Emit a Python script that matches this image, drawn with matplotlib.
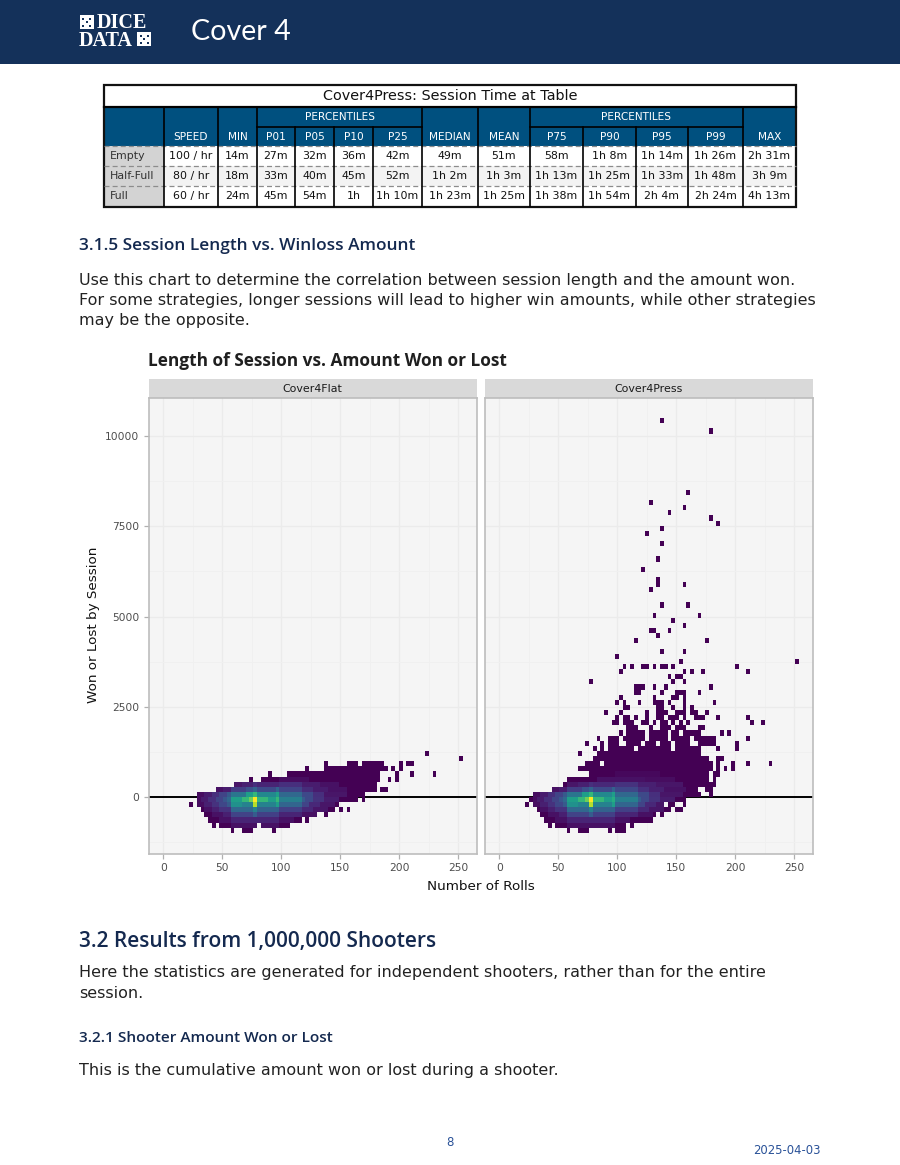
import numpy as np
import matplotlib
matplotlib.use('Agg')
import matplotlib.pyplot as plt
from matplotlib.patches import Rectangle

W, H = 900, 1165
plt.rcParams['font.family'] = ['DejaVu Sans']
HEAD_FONT = ['Open Sans', 'DejaVu Sans']

# session time table
table_title = 'Cover4Press: Session Time at Table'
head_left = ['SPEED', 'MIN', 'P01', 'P05', 'P10', 'P25', 'MEDIAN', 'MEAN', 'P75', 'P90', 'P95', 'P99', 'MAX']
row_names = ['Empty', 'Half-Full', 'Full']
row_empty = ['100 / hr', '14m', '27m', '32m', '36m', '42m', '49m', '51m', '58m', '1h 8m', '1h 14m', '1h 26m', '2h 31m']
row_half = ['80 / hr', '18m', '33m', '40m', '45m', '52m', '1h 2m', '1h 3m', '1h 13m', '1h 25m', '1h 33m', '1h 48m', '3h 9m']
row_full = ['60 / hr', '24m', '45m', '54m', '1h', '1h 10m', '1h 23m', '1h 25m', '1h 38m', '1h 54m', '2h 4m', '2h 24m', '4h 13m']

# heatmap bins
col_width = 3.17
col_first = 20.6
row_height = 141.8
n_cols = 76
row_low, row_high = -8, 75

# (row, first col, last col): bins holding at least one session
flat_spans = [
    (8, 64, 64), (7, 73, 73),
    (6, 37, 37), (6, 43, 45), (6, 47, 52), (6, 57, 57), (6, 59, 60),
    (5, 32, 32), (5, 37, 53), (5, 55, 55), (5, 57, 57),
    (4, 22, 22), (4, 27, 51), (4, 56, 56), (4, 60, 60), (4, 66, 66),
    (3, 17, 17), (3, 20, 51), (3, 54, 54), (3, 56, 56),
    (2, 13, 50), (1, 8, 50), (1, 52, 53), (0, 3, 47),
    (-1, 3, 45), (-1, 47, 47),
    (-2, 1, 1), (-2, 3, 40),
    (-3, 4, 39), (-3, 41, 41), (-3, 43, 43),
    (-4, 5, 34), (-4, 37, 37),
    (-5, 6, 30), (-5, 32, 32),
    (-6, 7, 7), (-6, 9, 18), (-6, 20, 27),
    (-7, 12, 12), (-7, 15, 17), (-7, 23, 23),
]
press_spans = [
    (73, 37, 37), (71, 50, 50), (59, 44, 44), (57, 34, 34), (56, 43, 43), (55, 39, 39),
    (54, 50, 50), (53, 52, 52), (52, 37, 37), (51, 33, 33), (49, 37, 37), (46, 36, 36),
    (44, 32, 32), (42, 36, 36), (41, 36, 36), (41, 43, 43), (40, 34, 34),
    (37, 37, 37), (37, 44, 44), (35, 35, 35), (35, 47, 47), (34, 40, 40), (33, 43, 43),
    (32, 34, 35), (32, 39, 39), (31, 36, 36), (30, 30, 30), (30, 49, 49),
    (28, 37, 37), (28, 43, 43), (27, 25, 25), (26, 42, 42), (26, 73, 73),
    (25, 27, 27), (25, 29, 29), (25, 32, 33), (25, 35, 35), (25, 37, 38), (25, 40, 40), (25, 57, 57),
    (24, 26, 26), (24, 43, 43), (24, 45, 45), (24, 48, 48), (24, 60, 60),
    (23, 39, 39), (23, 41, 42), (22, 18, 18), (22, 40, 40), (22, 43, 43),
    (21, 30, 32), (21, 35, 35), (21, 38, 38), (21, 50, 50),
    (20, 30, 31), (20, 37, 37), (20, 41, 43), (20, 47, 47),
    (19, 26, 26), (19, 35, 35), (19, 40, 41), (19, 43, 43),
    (18, 25, 25), (18, 27, 27), (18, 31, 31), (18, 35, 37), (18, 39, 39), (18, 43, 43), (18, 51, 51),
    (17, 27, 28), (17, 36, 37), (17, 40, 40), (17, 43, 43), (17, 45, 45),
    (16, 22, 22), (16, 26, 26), (16, 33, 33), (16, 36, 38), (16, 41, 43), (16, 45, 46), (16, 49, 49),
    (15, 25, 25), (15, 27, 28), (15, 30, 30), (15, 33, 33), (15, 36, 37), (15, 39, 41), (15, 43, 43),
    (15, 46, 48), (15, 52, 52), (15, 60, 60),
    (14, 24, 25), (14, 27, 29), (14, 32, 33), (14, 35, 35), (14, 37, 38), (14, 40, 40), (14, 42, 42),
    (14, 44, 44), (14, 61, 61), (14, 64, 64),
    (13, 28, 30), (13, 34, 34), (13, 37, 39), (13, 41, 43), (13, 47, 48),
    (12, 26, 26), (12, 28, 32), (12, 34, 38), (12, 40, 41), (12, 43, 47), (12, 53, 53), (12, 55, 55),
    (11, 20, 20), (11, 23, 25), (11, 27, 32), (11, 34, 38), (11, 40, 44), (11, 46, 51), (11, 60, 60),
    (10, 17, 17), (10, 21, 21), (10, 23, 25), (10, 28, 31), (10, 33, 35), (10, 37, 39), (10, 41, 44),
    (10, 47, 51), (10, 57, 57),
    (9, 19, 19), (9, 21, 21), (9, 23, 29), (9, 31, 39), (9, 41, 47), (9, 52, 52), (9, 57, 57),
    (8, 15, 15), (8, 20, 47),
    (7, 19, 49), (7, 52, 53),
    (6, 17, 20), (6, 22, 50), (6, 52, 52), (6, 56, 56), (6, 60, 60), (6, 66, 66),
    (5, 15, 50), (5, 52, 52), (5, 54, 54), (5, 56, 56),
    (4, 18, 49), (4, 51, 52), (3, 12, 49), (3, 51, 51), (2, 11, 50), (2, 51, 51),
    (1, 8, 46), (1, 49, 50), (0, 3, 47), (0, 50, 50),
    (-1, 2, 43),
    (-2, 1, 1), (-2, 3, 37), (-2, 39, 40), (-2, 43, 43),
    (-3, 4, 39), (-3, 41, 42),
    (-4, 5, 35), (-4, 37, 37),
    (-5, 6, 29), (-5, 30, 34),
    (-6, 7, 7), (-6, 9, 27), (-6, 29, 29),
    (-7, 12, 12), (-7, 15, 17), (-7, 23, 23), (-7, 25, 27),
]

# (row, first col, last col, relative count 0-9) for the busy middle
flat_core = [
    (3, 25, 32, 0.3),
    (2, 12, 14, 0.5), (2, 15, 17, 0.8), (2, 18, 18, 1.2), (2, 19, 24, 0.9), (2, 25, 30, 1.2), (2, 31, 35, 0.7),
    (2, 36, 40, 0.4),
    (1, 8, 9, 0.4), (1, 10, 11, 0.7), (1, 12, 15, 1.6), (1, 16, 17, 2.2), (1, 18, 18, 2.8), (1, 19, 23, 2),
    (1, 24, 24, 2.8), (1, 25, 30, 1.8), (1, 31, 33, 1.1), (1, 34, 37, 0.7), (1, 38, 42, 0.4),
    (0, 3, 4, 0.3), (0, 5, 6, 0.7), (0, 7, 8, 1.2), (0, 9, 10, 1.8), (0, 11, 11, 2.5), (0, 12, 15, 3.5),
    (0, 16, 17, 5), (0, 18, 18, 6), (0, 19, 23, 4.2), (0, 24, 24, 5), (0, 25, 30, 3), (0, 31, 33, 2),
    (0, 34, 36, 1.2), (0, 37, 42, 0.5),
    (-1, 3, 3, 0.3), (-1, 4, 5, 0.7), (-1, 6, 7, 1.2), (-1, 8, 9, 1.8), (-1, 10, 10, 2.4), (-1, 11, 11, 3),
    (-1, 12, 14, 5), (-1, 15, 16, 6), (-1, 17, 17, 7), (-1, 18, 18, 9), (-1, 19, 21, 6), (-1, 22, 23, 5),
    (-1, 24, 24, 6), (-1, 25, 30, 3.8), (-1, 31, 31, 2.6), (-1, 32, 33, 2), (-1, 34, 36, 1.3), (-1, 37, 40, 0.7),
    (-2, 3, 4, 0.3), (-2, 5, 6, 0.8), (-2, 7, 8, 1.3), (-2, 9, 10, 1.9), (-2, 11, 11, 2.5), (-2, 12, 14, 4.5),
    (-2, 15, 17, 4), (-2, 18, 18, 8), (-2, 19, 23, 4), (-2, 24, 24, 5), (-2, 25, 30, 2.9), (-2, 31, 32, 1.8),
    (-2, 33, 35, 1), (-2, 36, 39, 0.5),
    (-3, 5, 6, 0.4), (-3, 7, 8, 0.8), (-3, 9, 11, 1.3), (-3, 12, 17, 3), (-3, 18, 18, 4), (-3, 19, 24, 2.8),
    (-3, 25, 30, 1.7), (-3, 31, 33, 1), (-3, 34, 37, 0.5),
    (-4, 7, 9, 0.4), (-4, 10, 11, 0.8), (-4, 12, 17, 1.8), (-4, 18, 18, 2.6), (-4, 19, 24, 1.7), (-4, 25, 30, 0.9),
    (-4, 31, 34, 0.4),
    (-5, 9, 11, 0.4), (-5, 12, 24, 0.9), (-5, 25, 28, 0.4),
    (-6, 12, 24, 0.4),
]
press_core = [
    (4, 25, 36, 0.2),
    (3, 20, 32, 0.4), (3, 33, 40, 0.3),
    (2, 12, 14, 0.5), (2, 15, 17, 0.8), (2, 18, 18, 1.2), (2, 19, 24, 1), (2, 25, 30, 1.3), (2, 31, 35, 0.8),
    (2, 36, 42, 0.5),
    (1, 8, 9, 0.4), (1, 10, 11, 0.7), (1, 12, 15, 1.6), (1, 16, 17, 2.2), (1, 18, 18, 2.8), (1, 19, 23, 2),
    (1, 24, 24, 2.8), (1, 25, 30, 1.9), (1, 31, 33, 1.2), (1, 34, 37, 0.8), (1, 38, 43, 0.4),
    (0, 3, 4, 0.3), (0, 5, 6, 0.7), (0, 7, 8, 1.2), (0, 9, 10, 1.8), (0, 11, 11, 2.5), (0, 12, 15, 3.5),
    (0, 16, 17, 5), (0, 18, 18, 6), (0, 19, 23, 4.2), (0, 24, 24, 5), (0, 25, 30, 3), (0, 31, 33, 2),
    (0, 34, 36, 1.2), (0, 37, 42, 0.5),
    (-1, 3, 3, 0.3), (-1, 4, 5, 0.7), (-1, 6, 7, 1.2), (-1, 8, 9, 1.8), (-1, 10, 10, 2.4), (-1, 11, 11, 3),
    (-1, 12, 14, 5), (-1, 15, 16, 6), (-1, 17, 17, 7), (-1, 18, 18, 9), (-1, 19, 21, 6), (-1, 22, 23, 5),
    (-1, 24, 24, 5.6), (-1, 25, 30, 3.8), (-1, 31, 31, 2.6), (-1, 32, 33, 2), (-1, 34, 36, 1.3), (-1, 37, 40, 0.7),
    (-2, 3, 4, 0.3), (-2, 5, 6, 0.8), (-2, 7, 8, 1.3), (-2, 9, 10, 1.9), (-2, 11, 11, 2.5), (-2, 12, 14, 4.5),
    (-2, 15, 17, 4), (-2, 18, 18, 8), (-2, 19, 23, 4), (-2, 24, 24, 5), (-2, 25, 30, 2.9), (-2, 31, 32, 1.8),
    (-2, 33, 35, 1), (-2, 36, 37, 0.5),
    (-3, 5, 6, 0.4), (-3, 7, 8, 0.8), (-3, 9, 11, 1.3), (-3, 12, 17, 3), (-3, 18, 18, 4), (-3, 19, 24, 2.8),
    (-3, 25, 30, 1.7), (-3, 31, 33, 1), (-3, 34, 37, 0.5),
    (-4, 7, 9, 0.4), (-4, 10, 11, 0.8), (-4, 12, 17, 1.8), (-4, 18, 18, 2.6), (-4, 19, 24, 1.7), (-4, 25, 30, 0.9),
    (-4, 31, 34, 0.4),
    (-5, 9, 11, 0.4), (-5, 12, 24, 0.9), (-5, 25, 28, 0.4),
    (-6, 12, 24, 0.4),
]

x_ticks = [0, 50, 100, 150, 200, 250]
y_ticks = [0, 2500, 5000, 7500, 10000]
x_lim = (-12.5, 265.8)
y_lim = (-1579, 11053)


def build_grid(spans, core):
    grid = np.full((row_high - row_low, n_cols), np.nan)
    for r, a, b in spans:
        grid[r - row_low, a:b + 1] = 0
    for r, a, b, v in core:
        cells = grid[r - row_low, a:b + 1]
        cells[~np.isnan(cells)] = v
    return np.ma.masked_invalid(grid)


def panel(x0, x1, name, grid, left):
    ax = fig.add_axes([x0 / W, 1 - 854 / H, (x1 - x0) / W, (854 - 398) / H])
    ax.set_facecolor('#f5f5f5')
    ax.set_xlim(x_lim)
    ax.set_ylim(y_lim)
    ax.set_xticks(x_ticks)
    ax.set_yticks(y_ticks)
    ax.set_xticks([25, 75, 125, 175, 225], minor=True)
    ax.set_yticks([-1250, 1250, 3750, 6250, 8750], minor=True)
    ax.grid(True, which='major', color='#ebebeb', lw=1.0, zorder=0)
    ax.grid(True, which='minor', color='#f0f0f0', lw=0.6, zorder=0)
    ax.set_axisbelow(True)
    ax.tick_params(which='minor', length=0)
    ax.tick_params(which='major', length=3.5, width=0.9, color='#b0b0b0', labelsize=7.7,
                   labelcolor='#4d4d4d', pad=3)
    if not left:
        ax.tick_params(axis='y', which='major', length=0, labelleft=False)
    for s in ax.spines.values():
        s.set_color('#bdbdbd')
        s.set_linewidth(1.2)
    ax.axhline(0, color='black', lw=1.4, zorder=1)
    xe = col_first - col_width / 2 + col_width * np.arange(n_cols + 1)
    ye = row_height * np.arange(row_low, row_high + 1)
    ax.pcolormesh(xe, ye, grid, cmap='viridis', vmin=0, vmax=9, zorder=2, antialiased=False, linewidth=0)
    page.add_patch(Rectangle((x0, 379), x1 - x0, 19, fc='#d9d9d9', ec='none'))
    page.text((x0 + x1) / 2, 388.5, name, ha='center', va='center', fontsize=7.9, color='#1a1a1a')
    return ax


fig = plt.figure(figsize=(W / 100, H / 100), dpi=100, facecolor='white')
page = fig.add_axes([0, 0, 1, 1], zorder=0)
page.set_xlim(0, W)
page.set_ylim(H, 0)
page.axis('off')

# header band
page.add_patch(Rectangle((0, 0), W, 64, fc='#14315a', ec='none'))
page.text(191, 32, 'Cover 4', fontsize=20.6, color='white', va='center', family=['Lato', 'DejaVu Sans'])
page.text(97, 28.5, 'DICE', fontsize=14.5, color='white', va='baseline', weight='bold', family='Liberation Serif')
page.text(79, 46.5, 'DATA', fontsize=14.5, color='white', va='baseline', weight='bold', family='Liberation Serif')
for bx, by, pips in [(79.5, 15, [(2.5, 2.5), (9.5, 2.5), (2.5, 9.5), (9.5, 9.5), (6, 6)]),
                     (137, 32, [(2.5, 2.5), (9.5, 9.5), (6, 6), (9.5, 2.5), (2.5, 9.5)])]:
    page.add_patch(Rectangle((bx, by), 14, 14, fc='white', ec='none'))
    for px, py in pips:
        page.add_patch(Rectangle((bx + px, by + py), 2.2, 2.2, fc='#14315a', ec='none'))

# table
col_x = [104, 164, 218, 257, 295, 334, 373, 422, 478, 530, 583, 636, 688, 743, 796]
row_y = [146, 166, 186, 206.5]
blue = '#00507f'
page.add_patch(Rectangle((104, 107), 692, 39, fc=blue, ec='none'))
page.add_patch(Rectangle((104, 146), 60, 60, fc='#d3d3d3', ec='none'))
page.add_patch(Rectangle((164, 166), 632, 20, fc='#f3f3f3', ec='none'))
page.text(450, 96, table_title, ha='center', va='center', fontsize=10.4, color='#111111')
page.text((257 + 422) / 2, 117, 'PERCENTILES', ha='center', va='center', fontsize=7.6, color='white')
page.text((530 + 743) / 2, 117, 'PERCENTILES', ha='center', va='center', fontsize=7.6, color='white')
for i, name in enumerate(head_left):
    page.text((col_x[i + 1] + col_x[i + 2]) / 2, 137, name, ha='center', va='center', fontsize=7.6, color='white')
for j, vals in enumerate([row_empty, row_half, row_full]):
    cy = (row_y[j] + row_y[j + 1]) / 2
    page.text(110, cy, row_names[j], va='center', fontsize=7.9, color='#333333')
    for i, v in enumerate(vals):
        page.text((col_x[i + 1] + col_x[i + 2]) / 2, cy, v, ha='center', va='center', fontsize=7.9, color='#111111')
for y in row_y[:3]:
    page.plot([104, 796], [y, y], color='#8c8c8c', lw=0.9, ls=(0, (4, 2.5)))
for x in col_x[1:-1]:
    y0 = 127 if x in (295, 334, 373, 583, 636, 688) else 107
    page.plot([x, x], [y0, 206], color='black', lw=1.2)
page.plot([257, 422], [127, 127], color='black', lw=1.2)
page.plot([530, 743], [127, 127], color='black', lw=1.2)
page.plot([104, 796], [107, 107], color='black', lw=1.6)
page.add_patch(Rectangle((104, 85), 692, 121.5, fc='none', ec='#111111', lw=1.6))

# page text
navy = '#14294f'
body = '#222222'
body_size = 11.53
page.text(79, 245.5, '3.1.5 Session Length vs. Winloss Amount', fontsize=12.4, weight='semibold', color=navy, va='center', family=HEAD_FONT)
for y, line in [(280, 'Use this chart to determine the correlation between session length and the amount won.'),
                (300, 'For some strategies, longer sessions will lead to higher win amounts, while other strategies'),
                (321, 'may be the opposite.')]:
    page.text(79, y, line, fontsize=body_size, color=body, va='center')
page.text(148, 361.5, 'Length of Session vs. Amount Won or Lost', fontsize=12.4, weight='bold', color='#1f1f1f', va='center', family=HEAD_FONT)
page.text(481, 886, 'Number of Rolls', ha='center', va='center', fontsize=9.7, color='#111111')
page.text(93, 625, 'Won or Lost by Session', rotation=90, ha='center', va='center', fontsize=9.7, color='#111111')
page.text(79, 942, '3.2 Results from 1,000,000 Shooters', fontsize=15, weight='semibold', color=navy, va='center', family=HEAD_FONT)
page.text(79, 972, 'Here the statistics are generated for independent shooters, rather than for the entire', fontsize=body_size, color=body, va='center')
page.text(79, 994, 'session.', fontsize=body_size, color=body, va='center')
page.text(79, 1038.5, '3.2.1 Shooter Amount Won or Lost', fontsize=11.1, weight='semibold', color=navy, va='center', family=HEAD_FONT)
page.text(79, 1070, 'This is the cumulative amount won or lost during a shooter.', fontsize=body_size, color=body, va='center')
page.text(450, 1142, '8', ha='center', va='center', fontsize=8.5, color='#2a5298')
page.text(821, 1151, '2025-04-03', ha='right', va='center', fontsize=8.4, color='#2a5298')

ax1 = panel(148.5, 477, 'Cover4Flat', build_grid(flat_spans, flat_core), True)
ax2 = panel(484.5, 813, 'Cover4Press', build_grid(press_spans, press_core), False)

fig.savefig('out.png', dpi=100)
